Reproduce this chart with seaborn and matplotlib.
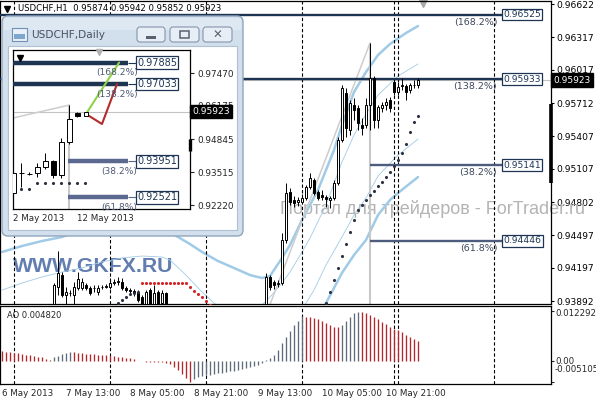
import matplotlib
matplotlib.use("Agg")
import matplotlib.pyplot as plt
import matplotlib.patches as mpatches
import matplotlib.transforms as mtransforms
import seaborn as sns

sns.set_theme(style="white")
plt.rcParams['font.family'] = ['DejaVu Sans']
plt.rcParams['axes.unicode_minus'] = False

# ============================================================
# DATA
# ============================================================
# H1 bars, numbered from the first bar on screen (6 May 2013 21:00)
left_bars = list(range(13, 42))
left_open = [0.93791, 0.94021, 0.94131, 0.93947, 0.93962, 0.93947, 0.94012, 0.94012, 0.94039, 0.94012,
             0.94008, 0.93975, 0.94017, 0.94021, 0.94021, 0.94062, 0.94067, 0.94067, 0.94012, 0.93993,
             0.93984, 0.93975, 0.93929, 0.93846, 0.93993, 0.93846, 0.93975, 0.93874, 0.93966]
left_high = [0.94058, 0.94352, 0.94159, 0.94021, 0.93993, 0.94067, 0.94159, 0.94104, 0.94058, 0.94030,
             0.94039, 0.94039, 0.94039, 0.94048, 0.94104, 0.94094, 0.94113, 0.94104, 0.94030, 0.94012,
             0.94003, 0.93993, 0.93947, 0.93993, 0.94012, 0.94039, 0.93993, 0.93993, 0.93975]
left_low = [0.93736, 0.93947, 0.93929, 0.93865, 0.93938, 0.93865, 0.93993, 0.93993, 0.93993, 0.93947,
            0.93975, 0.93947, 0.94003, 0.94012, 0.94003, 0.94039, 0.94039, 0.93993, 0.93975, 0.93966,
            0.93938, 0.93883, 0.93809, 0.93828, 0.93809, 0.93828, 0.93809, 0.93846, 0.93791]
left_close = [0.94039, 0.94150, 0.93947, 0.93975, 0.93966, 0.94021, 0.94094, 0.94067, 0.94012, 0.93966,
              0.94012, 0.94012, 0.94021, 0.94030, 0.94058, 0.94067, 0.94076, 0.94012, 0.93993, 0.93984,
              0.93966, 0.93901, 0.93846, 0.93975, 0.93846, 0.93966, 0.93846, 0.93966, 0.93809]

right_bars = list(range(66, 105))
right_open = [0.93809, 0.94113, 0.94067, 0.94053, 0.94058, 0.94453, 0.94894, 0.94821, 0.94802, 0.94802,
              0.94839, 0.94940, 0.95004, 0.94894, 0.94867, 0.94848, 0.94821, 0.94839, 0.94977, 0.95372,
              0.95804, 0.95464, 0.95694, 0.95666, 0.95510, 0.95510, 0.95694, 0.95942, 0.95556, 0.95666,
              0.95694, 0.95740, 0.95905, 0.95813, 0.95868, 0.95868, 0.95832, 0.95874, 0.95874]
right_high = [0.94150, 0.94131, 0.94085, 0.94085, 0.94517, 0.94977, 0.94931, 0.94857, 0.94848, 0.94876,
              0.94958, 0.95069, 0.95023, 0.94912, 0.94912, 0.94867, 0.94857, 0.95004, 0.95400, 0.95878,
              0.95850, 0.95740, 0.95758, 0.95694, 0.95574, 0.95758, 0.96264, 0.95960, 0.95694, 0.95721,
              0.95758, 0.95767, 0.95924, 0.95905, 0.95942, 0.95887, 0.95896, 0.95924, 0.95942]
right_low = [0.93764, 0.93993, 0.94003, 0.94021, 0.94039, 0.94425, 0.94775, 0.94756, 0.94765, 0.94784,
             0.94821, 0.94922, 0.94867, 0.94821, 0.94821, 0.94756, 0.94747, 0.94821, 0.94958, 0.95354,
             0.95400, 0.95418, 0.95556, 0.95464, 0.95418, 0.95482, 0.95464, 0.95482, 0.95482, 0.95629,
             0.95648, 0.95629, 0.95786, 0.95786, 0.95832, 0.95740, 0.95804, 0.95850, 0.95852]
right_close = [0.94113, 0.94021, 0.94039, 0.94058, 0.94453, 0.94885, 0.94802, 0.94793, 0.94821, 0.94839,
               0.94940, 0.95023, 0.94885, 0.94839, 0.94848, 0.94830, 0.94839, 0.94977, 0.95372, 0.95850,
               0.95482, 0.95712, 0.95648, 0.95528, 0.95482, 0.95694, 0.95942, 0.95556, 0.95675, 0.95694,
               0.95721, 0.95666, 0.95813, 0.95859, 0.95878, 0.95813, 0.95878, 0.95878, 0.95923]

# Bollinger bands (outer = thick, inner = thin), sampled at bar numbers
bb2_up_bars = [0, 5, 10, 15, 20, 30, 40, 44, 47, 50, 54, 58, 62, 65, 67, 70, 72, 75, 79, 83, 85, 88, 91, 94, 97, 101, 104]
bb2_up = [0.94343, 0.94398, 0.94444, 0.94481, 0.94545, 0.94600, 0.94563, 0.94481, 0.94416, 0.94343,
          0.94260, 0.94196, 0.94131, 0.94104, 0.94122, 0.94288, 0.94407, 0.94637, 0.94913, 0.95280,
          0.95510, 0.95813, 0.95997, 0.96153, 0.96255, 0.96356, 0.96420]
bb1_up_bars = [0, 5, 10, 15, 20, 25, 30, 35, 40, 42, 46, 50, 53, 56, 62, 65, 67, 70, 72, 75, 77, 81, 85, 88, 91, 94, 99, 104]
bb1_up = [0.93993, 0.94058, 0.94113, 0.94159, 0.94196, 0.94252, 0.94288, 0.94306, 0.94297, 0.94269,
          0.94131, 0.93975, 0.93874, 0.93791, 0.93791, 0.93855, 0.93929, 0.94058, 0.94159, 0.94343,
          0.94471, 0.94775, 0.95170, 0.95418, 0.95611, 0.95786, 0.95960, 0.96071]
bb1_dn_bars = [75, 76, 78, 81, 85, 88, 91, 94, 99, 104]
bb1_dn = [0.93809, 0.93874, 0.93993, 0.94224, 0.94481, 0.94683, 0.94839, 0.95041, 0.95234, 0.95381]
bb2_dn_bars = [80, 81, 83, 85, 88, 91, 94, 97, 99, 104]
bb2_dn = [0.93809, 0.93874, 0.94012, 0.94151, 0.94315, 0.94453, 0.94683, 0.94821, 0.94885, 0.95032]

# Parabolic SAR dots
sar_up_bars = [29, 30, 31, 32, 33, 34] + list(range(81, 105))
sar_up = [0.93874, 0.93901, 0.93929, 0.93957, 0.93966, 0.93975,
          0.93874, 0.93975, 0.94085, 0.94196, 0.94306, 0.94416, 0.94526, 0.94637, 0.94729, 0.94775,
          0.94821, 0.94867, 0.94903, 0.94949, 0.94986, 0.95032, 0.95078, 0.95133, 0.95188, 0.95253,
          0.95335, 0.95446, 0.95538, 0.95593]
sar_dn_bars = list(range(35, 53))
sar_dn = [0.94058] * 12 + [0.94021, 0.93984, 0.93957, 0.93929, 0.93892, 0.93855]

# Fibonacci expansion levels
fib_levels = [0.96525, 0.95933, 0.95141, 0.94446]
fib_names = ['(168.2%)', '(138.2%)', '(38.2%)', '(61.8%)']
fib_from = [-0.5, -0.5, 92, 92]
fib_to = 125
trend_bars = [66, 92]
trend_price = [0.93764, 0.96264]

last_close = 0.95923
price_ticks = [0.96622, 0.96317, 0.96017, 0.95712, 0.95407, 0.95107, 0.94802, 0.94497, 0.94197, 0.93892]
price_lo, price_hi = 0.93865, 0.96650
scale_mark = [0.95703, 0.94977]
day_breaks = [3, 27, 51, 75, 98, 99, 123]
time_ticks = [0, 16, 32, 48, 64, 80, 96]
time_labels = ['6 May 2013', '7 May 13:00', '8 May 05:00', '8 May 21:00',
               '9 May 13:00', '10 May 05:00', '10 May 21:00']

# Awesome Oscillator, bars 0..104
ao_vals = [0.00254, 0.00230, 0.00213, 0.00205, 0.00189, 0.00172, 0.00156, 0.00139, 0.00123, 0.00107,
           0.00090, 0.00057, 0.00025, 0.00090, 0.00131, 0.00172, 0.00205, 0.00230, 0.00221, 0.00205,
           0.00189, 0.00180, 0.00172, 0.00164, 0.00156, 0.00148, 0.00139, 0.00131, 0.00115, 0.00107,
           0.00098, 0.00082, 0.00066, 0.00041, 0.00008, -0.00008, -0.00016, -0.00020, -0.00025, -0.00029,
           -0.00033, -0.00041, -0.00074, -0.00139, -0.00221, -0.00320, -0.00410, -0.00510, -0.00434, -0.00402,
           -0.00377, -0.00352, -0.00336, -0.00320, -0.00303, -0.00287, -0.00270, -0.00254, -0.00238, -0.00221,
           -0.00205, -0.00180, -0.00156, -0.00123, -0.00090, -0.00041, 0.00025, 0.00066, 0.00148, 0.00271,
           0.00434, 0.00598, 0.00746, 0.00885, 0.00992, 0.01107, 0.01090, 0.01074, 0.01057, 0.01025,
           0.00984, 0.00926, 0.00885, 0.00844, 0.00828, 0.00885, 0.00992, 0.01090, 0.01172, 0.01213,
           0.01205, 0.01172, 0.01131, 0.01082, 0.01025, 0.00967, 0.00902, 0.00844, 0.00795, 0.00754,
           0.00705, 0.00640, 0.00590, 0.00535, 0.00482]
ao_lo, ao_hi = -0.005655, 0.013524
ao_levels = [0.012292, 0.0, -0.005105]

# Daily inset
day_bars = list(range(9))
day_open = [0.92697, 0.93493, 0.93453, 0.93493, 0.93731, 0.93970, 0.93413, 0.94726, 0.95880]
day_high = [0.93612, 0.93890, 0.93533, 0.93890, 0.94288, 0.94010, 0.94885, 0.96197, 0.95900]
day_low = [0.92578, 0.92936, 0.93413, 0.93334, 0.93652, 0.93294, 0.93294, 0.94646, 0.95730]
day_close = [0.93493, 0.93473, 0.93463, 0.93731, 0.93970, 0.93413, 0.94726, 0.95640, 0.95760]
day_sar_bars = list(range(1, 10))
day_sar = [0.92845, 0.92845, 0.93100, 0.93108, 0.93108, 0.93108, 0.93108, 0.93108, 0.93108]
day_fib_levels = [0.97885, 0.97033, 0.93951, 0.92521]
day_fib_from = [-0.06, -0.06, 6.8, 6.8]
day_fib_to = 14.3
day_trend_x = [-0.06, 7]
day_trend_y = [0.95680, 0.96197]
exp_green_x = [9.06, 13.2]
exp_green_y = [0.95840, 0.97885]
exp_red_x = [9.06, 11.06, 12.94]
exp_red_y = [0.95840, 0.95442, 0.97033]
day_ticks = [0.97470, 0.96175, 0.94845, 0.93515, 0.92220]
day_lo, day_hi = 0.92061, 0.98385
day_mark = [0.94845, 0.94368]
day_dates = ['2 May 2013', '12 May 2013']

NAVY = '#1d3553'
SLATE = '#4d5c7c'
BAND = '#a0cbe6'
W, H = 596.0, 400.0


def box(x0, y0, x1, y1):
    # pixel box (from top-left) -> figure fraction rect
    return [x0 / W, 1 - y1 / H, (x1 - x0) / W, (y1 - y0) / H]


def draw_candles(a, bars, o, h, l, c, width, lw):
    a.vlines(bars, l, h, color='black', lw=lw, zorder=4)
    bottoms = [min(x, y) for x, y in zip(o, c)]
    heights = [max(abs(y - x), 1e-7) for x, y in zip(o, c)]
    colors = ['white' if y >= x else 'black' for x, y in zip(o, c)]
    a.bar(bars, heights, bottom=bottoms, width=width, color=colors,
          edgecolor='black', linewidth=lw, zorder=5)


fig = plt.figure(figsize=(5.96, 4.0), dpi=100)
fig.patch.set_facecolor('white')

# ============================================================
# MAIN H1 PANEL
# ============================================================
ax = fig.add_axes(box(0, 1, 551, 304))
ax.set_facecolor('white')
ax.set_xlim(-0.5, 137.25)
ax.set_ylim(price_lo, price_hi)
for s in ax.spines.values():
    s.set_color('black')
    s.set_linewidth(0.9)
ax.yaxis.tick_right()
ax.set_yticks(price_ticks)
ax.set_yticklabels([f"{v:.5f}" for v in price_ticks])
ax.tick_params(axis='y', length=2.5, width=0.8, pad=1.2, labelsize=6.6, colors='black')
ax.set_xticks([])

# watermarks
ax.text(13 / W, 1 - 266 / H, 'WWW.GKFX.RU', transform=fig.transFigure, fontsize=15.3,
        fontweight='bold', family=['Liberation Sans', 'DejaVu Sans'],
        color='#4766a2', alpha=0.85, ha='left', va='center', zorder=1)
ax.text(280 / W, 1 - 209 / H, 'Портал для трейдеров - ForTrader.ru', transform=fig.transFigure,
        fontsize=13, family=['Liberation Sans', 'DejaVu Sans'], color='#b4b4b4',
        ha='left', va='center', zorder=1)

# bands
for bx, by, w in [(bb2_up_bars, bb2_up, 1.8), (bb2_dn_bars, bb2_dn, 1.8),
                  (bb1_up_bars, bb1_up, 0.6), (bb1_dn_bars, bb1_dn, 0.6)]:
    sns.lineplot(x=bx, y=by, ax=ax, color=BAND, linewidth=w, sort=False,
                 estimator=None, legend=False, zorder=2)

# fib trend line and its vertical
ax.plot(trend_bars, trend_price, color='#cdcdcd', lw=1.1, zorder=2)
ax.vlines(trend_bars[1], price_lo, trend_price[1], color='#c8c8c8', lw=1.5, zorder=2)
ax.axhline(last_close, color='#c4c4c4', lw=0.8, zorder=2)

# day separators
for b in day_breaks:
    ax.axvline(b, color='black', lw=0.8, ls=(0, (3, 2)), zorder=2.5)

# fib levels
for lvl, name, x0, col in zip(fib_levels, fib_names, fib_from, [NAVY, NAVY, SLATE, SLATE]):
    ax.hlines(lvl, x0, fib_to, color=col, lw=1.7, zorder=3)
    ax.annotate(name, xy=(123.8, lvl), xytext=(0, -5.5), textcoords='offset points',
                ha='right', va='center', fontsize=6.8, color='#3c475c', zorder=7)
    ax.text(125.3, lvl, f"{lvl:.5f}", ha='left', va='center', fontsize=6.6, color=NAVY, zorder=7,
            bbox=dict(boxstyle='square,pad=0.15', fc='white', ec=NAVY, lw=0.9))

draw_candles(ax, left_bars, left_open, left_high, left_low, left_close, 0.6, 0.7)
draw_candles(ax, right_bars, right_open, right_high, right_low, right_close, 0.6, 0.7)

sns.scatterplot(x=sar_up_bars, y=sar_up, ax=ax, color='#2b3142', s=5, linewidth=0, zorder=6)
sns.scatterplot(x=sar_dn_bars, y=sar_dn, ax=ax, color='#d02828', s=5, linewidth=0, zorder=6)

trans_r = mtransforms.blended_transform_factory(ax.transAxes, ax.transData)
ax.plot([1.0, 1.0], scale_mark, transform=trans_r, color='black', lw=2.6,
        solid_capstyle='butt', clip_on=False, zorder=8)
ax.text(1.005, last_close, f"{last_close:.5f}", transform=trans_r, ha='left', va='center',
        fontsize=6.5, color='white', clip_on=False, zorder=9,
        bbox=dict(boxstyle='square,pad=0.25', fc='black', ec='black'))
ax.plot(7 / 551, 0.975, marker='v', color='black', ms=4, transform=ax.transAxes, clip_on=False)
ax.plot(423 / 551, 0.992, marker='v', color='#a9a9a9', ms=6, transform=ax.transAxes, clip_on=False)
fig.text(18 / W, 1 - 8 / H, 'USDCHF,H1  0.95874 0.95942 0.95852 0.95923', fontsize=6.1,
         color='black', ha='left', va='center')

# ============================================================
# AO PANEL
# ============================================================
ao = fig.add_axes(box(0, 306, 551, 384))
ao.set_facecolor('white')
ao.set_xlim(-0.5, 137.25)
ao.set_ylim(ao_lo, ao_hi)
for s in ao.spines.values():
    s.set_color('black')
    s.set_linewidth(0.9)
ao_bars = list(range(len(ao_vals)))
ao_cols = ['#b3262b'] + ['#5f6a7a' if ao_vals[i] > ao_vals[i - 1] else '#b3262b'
                         for i in range(1, len(ao_vals))]
ao.vlines(ao_bars, 0, ao_vals, colors=ao_cols, lw=0.95, zorder=3)
for b in day_breaks:
    ao.axvline(b, color='black', lw=0.8, ls=(0, (3, 2)), zorder=2.5)
ao.yaxis.tick_right()
ao.set_yticks(ao_levels)
ao.set_yticklabels([])
ao.tick_params(axis='y', length=2.5, width=0.8)
ao.set_xticks(time_ticks)
ao.set_xticklabels(time_labels, ha='left', fontsize=6.3)
ao.tick_params(axis='x', length=2, width=0.8, pad=1.5)
for txt, py in zip(['0.012292', '0.00', '-0.005105'], [314, 361, 370]):
    fig.text(555 / W, 1 - py / H, txt, fontsize=6.2, ha='left', va='center')
fig.text(7 / W, 1 - 316 / H, 'AO 0.004820', fontsize=6.0, ha='left', va='center')

# ============================================================
# DAILY INSET WINDOW
# ============================================================
ov = fig.add_axes([0, 0, 1, 1], zorder=10)
ov.set_xlim(0, W)
ov.set_ylim(H, 0)
ov.axis('off')
ov.patch.set_alpha(0)
ov.add_patch(mpatches.FancyBboxPatch((2, 16), 241, 220, boxstyle='round,pad=0,rounding_size=6',
                                     fc='#d2dfed', ec='#90a5bc', lw=1))
ov.add_patch(mpatches.Rectangle((4, 18), 237, 12, fc='#dde8f3', ec='none'))
ov.add_patch(mpatches.Rectangle((8, 46), 229, 184, fc='white', ec='#b0c0d2', lw=0.8))
ov.text(31, 35, 'USDCHF,Daily', fontsize=7.6, color='#4a535e', ha='left', va='center')
ov.add_patch(mpatches.Rectangle((12, 28), 15, 13, fc='#e9f0f8', ec='#6f8fb3', lw=0.8))
ov.add_patch(mpatches.Rectangle((14, 34), 11, 5, fc='#7fa6cf', ec='none'))
for bx0, bw in [(137, 28), (170, 29), (203, 29)]:
    ov.add_patch(mpatches.FancyBboxPatch((bx0, 27), bw, 15, boxstyle='round,pad=0,rounding_size=3',
                                         fc='#e7eef6', ec='#8595aa', lw=0.8))
ov.add_patch(mpatches.Rectangle((146, 36), 10, 2.5, fc='#59626e', ec='none'))
ov.add_patch(mpatches.Rectangle((180, 31), 9, 7, fc='none', ec='#59626e', lw=1.1))
ov.text(217.5, 35, '✕', fontsize=8.5, color='#59626e', ha='center', va='center')

ins = fig.add_axes(box(13, 50, 190, 209), zorder=11)
ins.set_facecolor('white')
ins.set_xlim(-0.06, 22.06)
ins.set_ylim(day_lo, day_hi)
for s in ins.spines.values():
    s.set_color('black')
    s.set_linewidth(0.9)
ins.yaxis.tick_right()
ins.set_yticks(day_ticks)
ins.set_yticklabels([f"{v:.5f}" for v in day_ticks])
ins.tick_params(axis='y', length=3, width=0.8, pad=2, labelsize=6.4)
ins.set_xticks([0, 8])
ins.set_xticklabels(day_dates, ha='left', fontsize=6.3)
ins.tick_params(axis='x', length=2, width=0.8, pad=1.5)

ins.axhline(last_close, color='#c4c4c4', lw=0.8, zorder=2)
ins.plot(day_trend_x, day_trend_y, color='#cdcdcd', lw=1.1, zorder=2)
ins.vlines(day_trend_x[1], day_lo, day_trend_y[1], color='#c8c8c8', lw=1.5, zorder=2)
for lvl, name, x0, col in zip(day_fib_levels, fib_names, day_fib_from, [NAVY, NAVY, '#5b6990', '#5b6990']):
    ins.hlines(lvl, x0, day_fib_to, color=col, lw=3.2, zorder=3)
    ins.hlines(lvl, day_fib_to, 15.4, color=col, lw=0.8, zorder=3)
    ins.annotate(name, xy=(15.5, lvl), xytext=(0, -7.5), textcoords='offset points',
                 ha='right', va='center', fontsize=6.6, color='#4d5a74', zorder=7)
    ins.text(15.45, lvl, f"{lvl:.5f}", ha='left', va='center', fontsize=7, color=NAVY, zorder=7,
             bbox=dict(boxstyle='square,pad=0.12', fc='white', ec=NAVY, lw=0.9))
draw_candles(ins, day_bars, day_open, day_high, day_low, day_close, 0.55, 0.7)
sns.scatterplot(x=day_sar_bars, y=day_sar, ax=ins, color='#2b3142', s=5, linewidth=0, zorder=6)
ins.plot(exp_green_x, exp_green_y, color='#8fd24a', lw=1.5, zorder=6)
ins.plot(exp_red_x, exp_red_y, color='#b52a2a', lw=1.5, zorder=6)
ins.plot(exp_red_x[0], exp_red_y[0], marker='s', ms=3.5, mfc='white', mec='black', mew=0.7, zorder=7)

trans_i = mtransforms.blended_transform_factory(ins.transAxes, ins.transData)
ins.plot([1.0, 1.0], day_mark, transform=trans_i, color='black', lw=2.4,
         solid_capstyle='butt', clip_on=False, zorder=8)
ins.text(1.012, last_close, f"{last_close:.5f}", transform=trans_i, ha='left', va='center',
         fontsize=6.6, color='white', clip_on=False, zorder=9,
         bbox=dict(boxstyle='square,pad=0.22', fc='black', ec='black'))
ins.plot(0.04, 0.95, marker='v', color='black', ms=4, transform=ins.transAxes, clip_on=False, zorder=8)
ins.plot(0.486, 0.985, marker='v', color='#b0b0b0', ms=5, transform=ins.transAxes, clip_on=False, zorder=8)

fig.savefig('out.png', dpi=100)
